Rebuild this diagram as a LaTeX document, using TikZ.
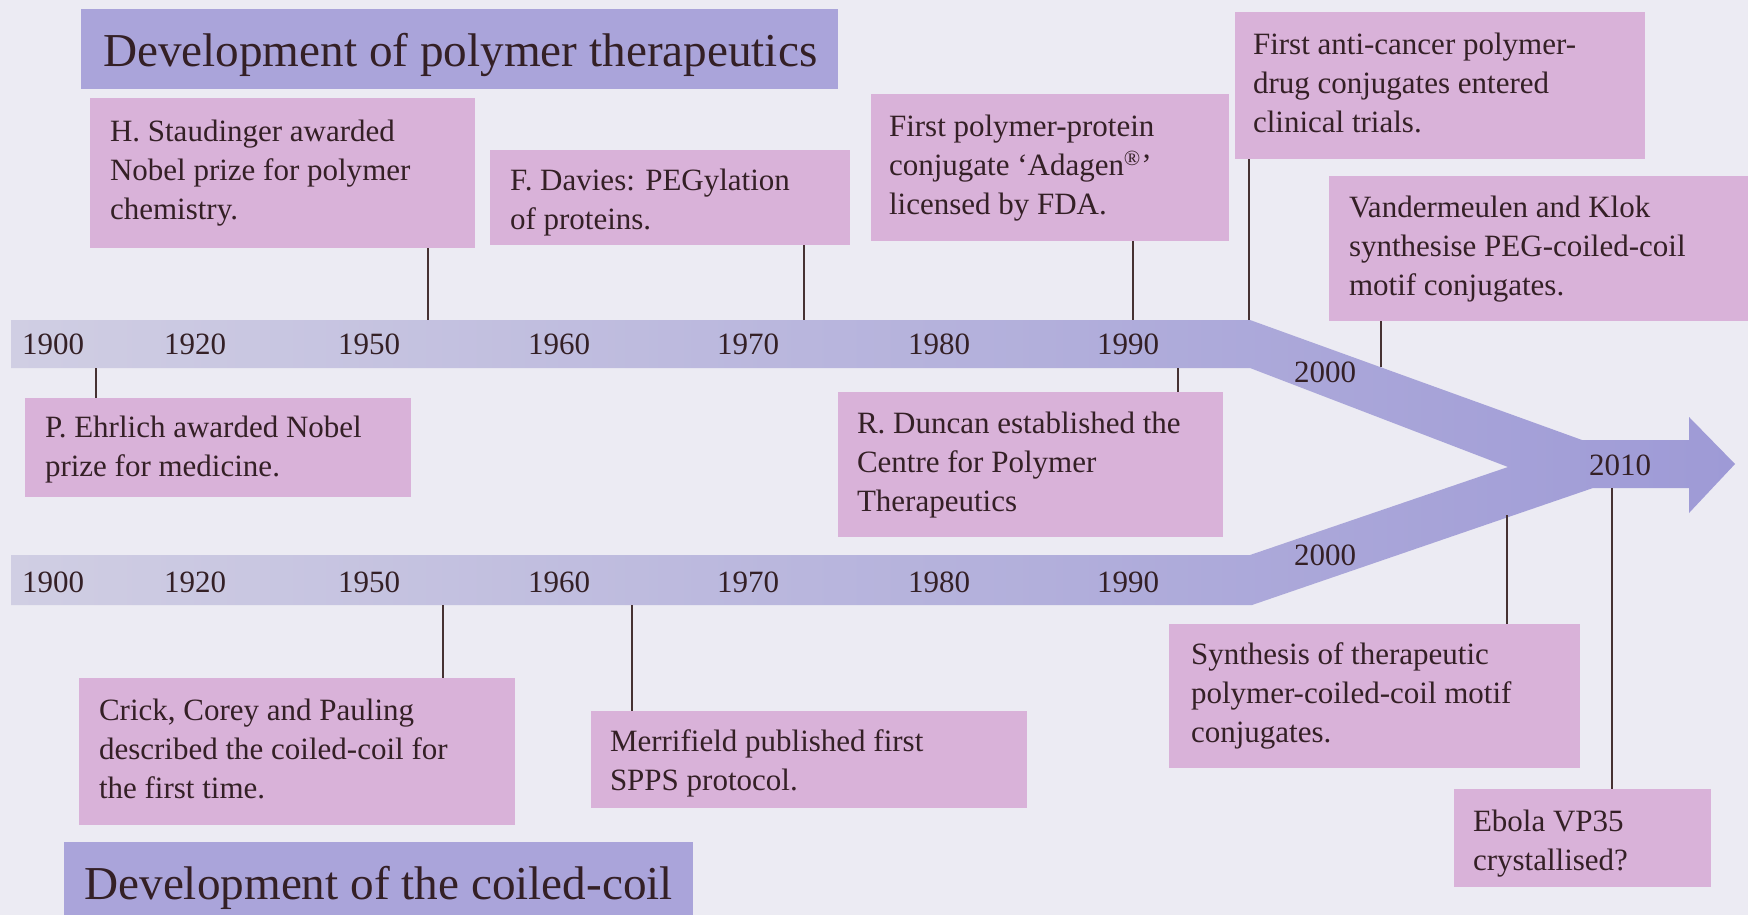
\documentclass[tikz,border=0pt]{standalone}
\usepackage{fontspec}
\setmainfont{Liberation Serif}
\usetikzlibrary{fit}
\definecolor{bgc}{RGB}{236,235,243}
\definecolor{pinkc}{RGB}{217,178,217}
\definecolor{titlec}{RGB}{170,164,218}
\definecolor{barl}{RGB}{208,206,227}
\definecolor{barm}{RGB}{172,168,220}
\definecolor{barr}{RGB}{158,154,214}
\definecolor{inkc}{RGB}{52,32,38}
\definecolor{linec}{RGB}{70,50,50}
\tikzset{
  evbox/.style={inner sep=0pt, fill=pinkc, draw=none},
  ttlbox/.style={inner sep=0pt, fill=titlec, draw=none},
  txt/.style={inner sep=0pt, align=left, text=inkc, font=\fontsize{15.5}{19.5}\selectfont},
  ttl/.style={inner sep=0pt, text=inkc, font=\fontsize{23.6}{28}\selectfont},
  yr/.style={inner sep=0pt, text=inkc, font=\fontsize{15.5}{19.5}\selectfont},
  conn/.style={draw=linec, line width=1pt}
}
\begin{document}
\begin{tikzpicture}[x=0.5pt, y=-0.5pt]
\useasboundingbox (0,0) rectangle (1748,915);
\fill[bgc] (0,0) rectangle (1748,915);

% timeline bars
\shade[left color=barl, middle color=barm, right color=barr]
  (11,320) -- (1250,320) -- (1582,440) -- (1689,440) -- (1689,417) -- (1735,464)
  -- (1689,513) -- (1689,488) -- (1593,488) -- (1252,605) -- (11,605) -- (11,555)
  -- (1250,555) -- (1508,467) -- (1250,368) -- (11,368) -- cycle;

% titles
\node[ttlbox, fit={(81,9) (838,89)}] (T1) {};
\node[ttl, anchor=west] (T1t) at ([xshift=11pt,yshift=-3pt]T1.west) {Development of polymer therapeutics};
\node[ttlbox, fit={(64,842) (693,915)}] (T2) {};
\node[ttl, anchor=west] (T2t) at (84,888) {Development of the coiled-coil};

% event boxes
\node[evbox, fit={(90,98) (475,248)}] (b1) {};
\node[txt, anchor=west] (t1) at ([xshift=10pt]b1.west) {H. Staudinger awarded\\Nobel prize for polymer\\chemistry.};
\node[evbox, fit={(490,150) (850,245)}] (b2) {};
\node[txt, anchor=west] (t2) at ([xshift=10pt,yshift=-2.5pt]b2.west) {F. Davies: PEGylation\\of proteins.};
\node[evbox, fit={(871,94) (1229,241)}] (b3) {};
\node[txt, anchor=west] (t3) at ([xshift=9pt,yshift=-0.5pt]b3.west) {First polymer-protein\\conjugate ‘Adagen\textsuperscript{®}’\\licensed by FDA.};
\node[evbox, fit={(1235,12) (1645,159)}] (b4) {};
\node[txt, anchor=west] (t4) at ([xshift=9pt,yshift=1.5pt]b4.west) {First anti-cancer polymer-\\drug conjugates entered\\clinical trials.};
\node[evbox, fit={(1329,176) (1748,321)}] (b5) {};
\node[txt, anchor=west] (t5) at ([xshift=10pt,yshift=-0.5pt]b5.west) {Vandermeulen and Klok\\synthesise PEG-coiled-coil\\motif conjugates.};
\node[evbox, fit={(25,398) (411,497)}] (b6) {};
\node[txt, anchor=west] (t6) at ([xshift=10pt,yshift=-1pt]b6.west) {P. Ehrlich awarded Nobel\\prize for medicine.};
\node[evbox, fit={(838,392) (1223,537)}] (b7) {};
\node[txt, anchor=west] (t7) at ([xshift=9.5pt,yshift=-0.5pt]b7.west) {R. Duncan established the\\Centre for Polymer\\Therapeutics};
\node[evbox, fit={(79,678) (515,825)}] (b8) {};
\node[txt, anchor=west] (t8) at ([xshift=10pt,yshift=1.5pt]b8.west) {Crick, Corey and Pauling\\described the coiled-coil for\\the first time.};
\node[evbox, fit={(591,711) (1027,808)}] (b9) {};
\node[txt, anchor=west] (t9) at ([xshift=9.5pt,yshift=-2pt]b9.west) {Merrifield published first\\SPPS protocol.};
\node[evbox, fit={(1169,624) (1580,768)}] (b10) {};
\node[txt, anchor=west] (t10) at ([xshift=11pt]b10.west) {Synthesis of therapeutic\\polymer-coiled-coil motif\\conjugates.};
\node[evbox, fit={(1454,789) (1711,887)}] (b11) {};
\node[txt, anchor=west] (t11) at ([xshift=9.5pt,yshift=-3pt]b11.west) {Ebola VP35\\crystallised?};

% connector end points on the bars
\coordinate (p1) at (428,320);
\coordinate (p2) at (804,320);
\coordinate (p3) at (1133,320);
\coordinate (p4) at (1249,320);
\coordinate (p5) at (1381,367);
\coordinate (p6) at (96,368);
\coordinate (p7) at (1178,368);
\coordinate (p8) at (443,605);
\coordinate (p9) at (632,605);
\coordinate (p10) at (1507,515);
\coordinate (p11) at (1612,488);

\draw[conn] (b1.south -| p1) -- (p1);
\draw[conn] (b2.south -| p2) -- (p2);
\draw[conn] (b3.south -| p3) -- (p3);
\draw[conn] (b4.south -| p4) -- (p4);
\draw[conn] (b5.south -| p5) -- (p5);
\draw[conn] (b6.north -| p6) -- (p6);
\draw[conn] (b7.north -| p7) -- (p7);
\draw[conn] (b8.north -| p8) -- (p8);
\draw[conn] (b9.north -| p9) -- (p9);
\draw[conn] (b10.north -| p10) -- (p10);
\draw[conn] (b11.north -| p11) -- (p11);

% year labels, upper timeline
\node[yr] (u1900) at (53,344) {1900};
\node[yr] (u1920) at (195,344) {1920};
\node[yr] (u1950) at (369,344) {1950};
\node[yr] (u1960) at (559,344) {1960};
\node[yr] (u1970) at (748,344) {1970};
\node[yr] (u1980) at (939,344) {1980};
\node[yr] (u1990) at (1128,344) {1990};
\node[yr] (u2000) at (1325,372) {2000};
\node[yr] (y2010) at (1620,465) {2010};
% year labels, lower timeline
\node[yr] (l1900) at (53,582) {1900};
\node[yr] (l1920) at (195,582) {1920};
\node[yr] (l1950) at (369,582) {1950};
\node[yr] (l1960) at (559,582) {1960};
\node[yr] (l1970) at (748,582) {1970};
\node[yr] (l1980) at (939,582) {1980};
\node[yr] (l1990) at (1128,582) {1990};
\node[yr] (l2000) at (1325,555) {2000};
\end{tikzpicture}
\end{document}
